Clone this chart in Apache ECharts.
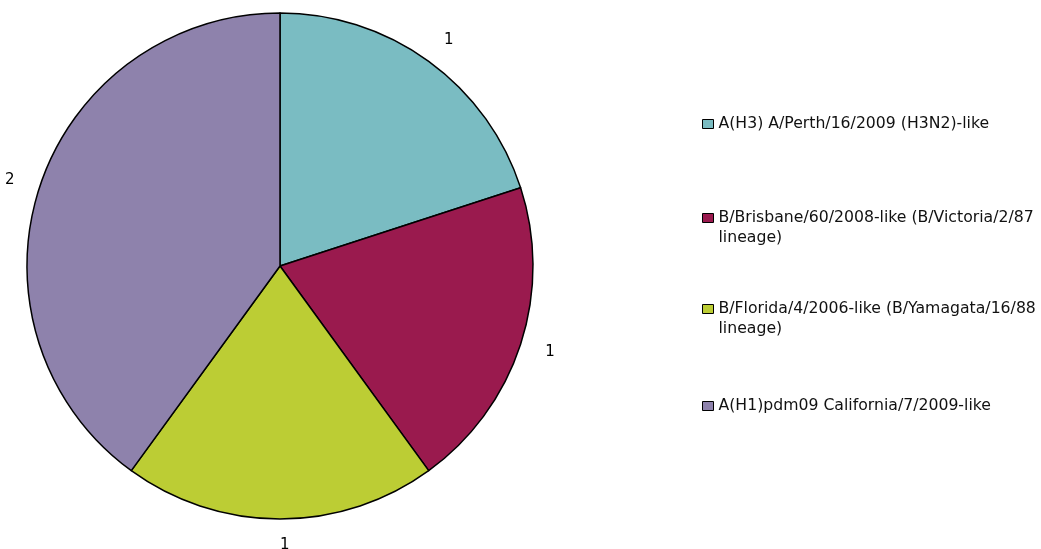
<!DOCTYPE html>
<html><head><meta charset="utf-8">
<script src="https://cdn.jsdelivr.net/npm/echarts@6/dist/echarts.min.js"></script>
<style>html,body{margin:0;padding:0;background:#fff}#c{width:1041px;height:549px}</style>
</head><body><div id="c"></div>
<script>
const categories = [
  'A(H3) A/Perth/16/2009 (H3N2)-like',
  'B/Brisbane/60/2008-like (B/Victoria/2/87 lineage)',
  'B/Florida/4/2006-like (B/Yamagata/16/88 lineage)',
  'A(H1)pdm09 California/7/2009-like'
];
const legendLines = [
  ['A(H3) A/Perth/16/2009 (H3N2)-like'],
  ['B/Brisbane/60/2008-like (B/Victoria/2/87', 'lineage)'],
  ['B/Florida/4/2006-like (B/Yamagata/16/88', 'lineage)'],
  ['A(H1)pdm09 California/7/2009-like']
];
const values = [1, 1, 1, 2];
const colors = ['#7ABCC2', '#9A1A4E', '#BCCD34', '#8E82AC'];
const legendTops = [114, 188, 279, 396];

const font = 'DejaVu Sans';
const chart = echarts.init(document.getElementById('c'), null, {renderer: 'canvas'});
const legends = categories.map((name, i) => ({
  data: [name],
  orient: 'vertical',
  left: 702,
  top: legendTops[i],
  padding: 0,
  icon: 'rect',
  itemWidth: 11,
  itemHeight: 9,
  itemStyle: {borderColor: '#000', borderWidth: 1},
  selectedMode: false,
  formatter: () => legendLines[i].length > 1 ? '\n' + legendLines[i].join('\n') : legendLines[i][0],
  textStyle: {fontFamily: font, fontSize: 15.7, color: '#111', lineHeight: 20}
}));
chart.setOption({
  animation: false,
  color: colors,
  legend: legends,
  series: [{
    type: 'pie',
    center: [280, 266],
    radius: 253,
    startAngle: 90,
    clockwise: true,
    avoidLabelOverlap: false,
    data: categories.map((n, i) => ({name: n, value: values[i]})),
    itemStyle: {borderColor: '#000', borderWidth: 1.5},
    label: {
      show: true, position: 'outside', formatter: '{c}',
      fontFamily: font, fontSize: 15, color: '#000',
      distanceToLabelLine: 0
    },
    labelLine: {show: false, length: 26, length2: 0},
    emphasis: {disabled: true}
  }]
});
</script></body></html>
